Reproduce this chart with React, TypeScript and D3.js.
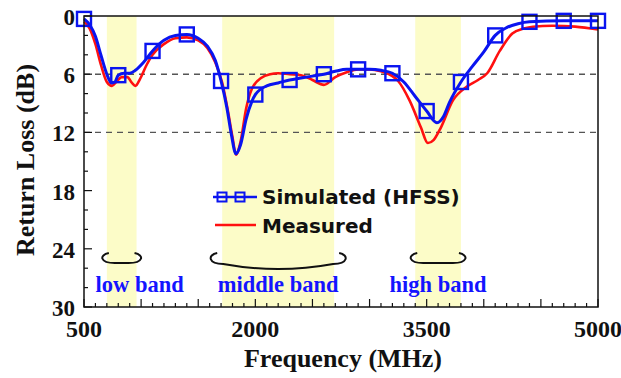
import * as d3 from 'd3'
import React, { useRef, useEffect } from 'react'

// frequency (MHz) / return loss (dB)
const simFreq = [500, 550, 600, 650, 700, 740, 770, 800, 850, 900, 950, 1020, 1100, 1200, 1300, 1400, 1500, 1580, 1650, 1700, 1750, 1790, 1830, 1870, 1920, 1970, 2000, 2100, 2200, 2300, 2400, 2500, 2600, 2700, 2800, 2900, 3000, 3100, 3200, 3300, 3400, 3500, 3590, 3650, 3700, 3800, 3900, 4000, 4100, 4200, 4300, 4400, 4700, 5000]
const simLoss = [0.3, 0.9, 2.1, 4.1, 6.0, 6.9, 6.8, 6.1, 5.9, 5.9, 5.6, 4.8, 3.6, 2.5, 2.0, 1.9, 2.3, 3.1, 4.6, 6.7, 9.4, 12.2, 14.2, 13.3, 10.6, 8.8, 8.1, 7.2, 6.9, 6.6, 6.4, 6.2, 6.0, 5.7, 5.5, 5.5, 5.5, 5.6, 5.9, 6.8, 8.3, 9.8, 11.0, 10.3, 8.9, 6.8, 5.2, 3.7, 2.0, 1.2, 0.8, 0.6, 0.5, 0.5]
const markerFreq = [500, 800, 1100, 1400, 1700, 2000, 2300, 2600, 2900, 3200, 3500, 3800, 4100, 4400, 4700, 5000]

const measFreq = [500, 550, 600, 650, 700, 745, 790, 830, 880, 920, 950, 990, 1050, 1100, 1200, 1300, 1400, 1500, 1580, 1650, 1710, 1760, 1800, 1830, 1870, 1920, 1970, 2050, 2130, 2200, 2300, 2400, 2500, 2600, 2700, 2800, 2900, 3000, 3100, 3200, 3250, 3350, 3450, 3510, 3560, 3620, 3730, 3850, 3950, 4030, 4140, 4250, 4350, 4430, 4600, 4800, 5000]
const measLoss = [0.6, 1.3, 2.9, 5.1, 6.8, 7.2, 6.7, 6.3, 6.3, 6.9, 7.2, 6.5, 5.0, 4.0, 2.9, 2.3, 2.2, 2.5, 3.3, 4.8, 6.9, 9.8, 12.5, 14.3, 13.0, 9.5, 7.5, 6.4, 6.0, 5.9, 6.0, 6.1, 6.6, 7.1, 6.3, 5.8, 5.5, 5.5, 5.7, 6.2, 6.7, 8.7, 11.5, 13.1, 12.8, 11.6, 8.7, 7.3, 6.6, 5.9, 3.6, 1.8, 1.3, 1.1, 1.0, 1.1, 1.4]

const bandNames = ['low band', 'middle band', 'high band']
const bandStart = [700, 1710, 3400]
const bandEnd = [960, 2690, 3800]

const xLabels = [500, 2000, 3500, 5000]
const yLabels = [0, 6, 12, 18, 24, 30]
const seriesNames = ['Simulated (HFSS)', 'Measured']

const serif = '"Liberation Serif", "Times New Roman", serif'
const sans = '"DejaVu Sans", Tahoma, sans-serif'

const App = () => {
  const ref = useRef(null)

  useEffect(() => {
    draw()
  }, [])

  const draw = () => {
    const svg = d3.select(ref.current)
    svg.selectAll('*').remove()

    const left = 84
    const right = 598
    const top = 16
    const bottom = 307

    const x = d3.scaleLinear().domain([500, 5000]).range([left, right])
    const y = d3.scaleLinear().domain([0, 30]).range([top, bottom])

    // frequency bands
    bandStart.forEach((s, i) => {
      svg
        .append('rect')
        .attr('x', x(s))
        .attr('y', top)
        .attr('width', x(bandEnd[i]) - x(s))
        .attr('height', bottom - top)
        .attr('fill', '#fcfcc8')
    })

    // dashed grid at 6 and 12 dB
    svg
      .selectAll('.grid')
      .data([6, 12])
      .enter()
      .append('line')
      .attr('x1', left)
      .attr('x2', right)
      .attr('y1', (d) => y(d))
      .attr('y2', (d) => y(d))
      .attr('stroke', '#555')
      .attr('stroke-width', 1.4)
      .attr('stroke-dasharray', '6,5')

    // brackets + band labels
    bandStart.forEach((s, i) => {
      const pad = i === 1 ? 12 : 5
      const x1 = x(s) - pad
      const x2 = x(bandEnd[i]) + pad
      const y0 = 253
      const depth = i === 1 ? 11 : 10
      const sag = i === 1 ? 5 : 0
      const p = d3.path()
      p.moveTo(x1 + 7, y0)
      p.bezierCurveTo(x1 - 3, y0 + 2, x1 - 2, y0 + depth, x1 + 13, y0 + depth)
      p.quadraticCurveTo((x1 + x2) / 2, y0 + depth + sag * 2, x2 - 13, y0 + depth)
      p.bezierCurveTo(x2 + 2, y0 + depth, x2 + 3, y0 + 2, x2 - 7, y0)
      svg
        .append('path')
        .attr('d', p.toString())
        .attr('fill', 'none')
        .attr('stroke', '#111')
        .attr('stroke-width', 2)

      svg
        .append('text')
        .attr('x', (x(s) + x(bandEnd[i])) / 2 + (i === 0 ? 18 : 0))
        .attr('y', 292)
        .attr('text-anchor', 'middle')
        .attr('font-family', serif)
        .attr('font-weight', 'bold')
        .attr('font-size', 22.5)
        .attr('fill', '#1414ff')
        .text(bandNames[i])
    })

    // curves
    const measPts = measFreq.map((f, i) => [x(f), y(measLoss[i])] as [number, number])
    const simPts = simFreq.map((f, i) => [x(f), y(simLoss[i])] as [number, number])

    svg
      .append('path')
      .attr('d', d3.line().curve(d3.curveMonotoneX)(measPts))
      .attr('fill', 'none')
      .attr('stroke', '#ff1010')
      .attr('stroke-width', 2.6)

    svg
      .append('path')
      .attr('d', d3.line().curve(d3.curveMonotoneX)(simPts))
      .attr('fill', 'none')
      .attr('stroke', '#0a14f0')
      .attr('stroke-width', 3)

    const sq = 14
    svg
      .selectAll('.marker')
      .data(markerFreq)
      .enter()
      .append('rect')
      .attr('x', (d) => x(d) - sq / 2)
      .attr('y', (d) => y(simLoss[simFreq.indexOf(d)]) - sq / 2)
      .attr('width', sq)
      .attr('height', sq)
      .attr('fill', 'none')
      .attr('stroke', '#0a14f0')
      .attr('stroke-width', 2.4)

    // frame
    svg
      .append('path')
      .attr('d', `M${left},${top}H${right}V${bottom}H${left}Z`)
      .attr('fill', 'none')
      .attr('stroke', '#111')
      .attr('stroke-width', 1.5)

    // x ticks (inward)
    svg
      .selectAll('.xtick')
      .data(d3.range(500, 5001, 100))
      .enter()
      .append('line')
      .attr('x1', (d) => x(d))
      .attr('x2', (d) => x(d))
      .attr('y1', bottom)
      .attr('y2', (d) => bottom - (d % 500 === 0 ? 8 : 4))
      .attr('stroke', '#111')
      .attr('stroke-width', 1.2)

    // y ticks (inward)
    svg
      .selectAll('.ytick')
      .data(d3.range(0, 31, 2))
      .enter()
      .append('line')
      .attr('y1', (d) => y(d))
      .attr('y2', (d) => y(d))
      .attr('x1', left)
      .attr('x2', (d) => left + (d % 6 === 0 ? 8 : 4))
      .attr('stroke', '#111')
      .attr('stroke-width', 1.2)

    svg
      .selectAll('.xlab')
      .data(xLabels)
      .enter()
      .append('text')
      .attr('x', (d) => x(d))
      .attr('y', 337)
      .attr('text-anchor', 'middle')
      .attr('font-family', serif)
      .attr('font-weight', 'bold')
      .attr('font-size', 24)
      .attr('fill', '#111')
      .text((d) => d)

    svg
      .selectAll('.ylab')
      .data(yLabels)
      .enter()
      .append('text')
      .attr('x', 75)
      .attr('y', (d) => y(d) + 1)
      .attr('dy', '0.35em')
      .attr('text-anchor', 'end')
      .attr('font-family', serif)
      .attr('font-weight', 'bold')
      .attr('font-size', 23)
      .attr('fill', '#111')
      .text((d) => d)

    svg
      .append('text')
      .attr('x', 343)
      .attr('y', 367)
      .attr('text-anchor', 'middle')
      .attr('font-family', serif)
      .attr('font-weight', 'bold')
      .attr('font-size', 26)
      .attr('fill', '#111')
      .text('Frequency (MHz)')

    svg
      .append('text')
      .attr('transform', 'translate(34,160) rotate(-90)')
      .attr('text-anchor', 'middle')
      .attr('font-family', serif)
      .attr('font-weight', 'bold')
      .attr('font-size', 26)
      .attr('fill', '#111')
      .text('Return Loss (dB)')

    // legend
    svg
      .append('line')
      .attr('x1', 213)
      .attr('x2', 257)
      .attr('y1', 197)
      .attr('y2', 197)
      .attr('stroke', '#0a14f0')
      .attr('stroke-width', 2.5)
    ;[222, 240].forEach((cx) => {
      svg
        .append('rect')
        .attr('x', cx - 4.5)
        .attr('y', 192.5)
        .attr('width', 9)
        .attr('height', 9)
        .attr('fill', 'none')
        .attr('stroke', '#0a14f0')
        .attr('stroke-width', 2)
    })
    svg
      .append('line')
      .attr('x1', 215)
      .attr('x2', 256)
      .attr('y1', 225)
      .attr('y2', 225)
      .attr('stroke', '#ff1010')
      .attr('stroke-width', 2.5)

    seriesNames.forEach((name, i) => {
      svg
        .append('text')
        .attr('x', 262)
        .attr('y', 204 + i * 29)
        .attr('font-family', sans)
        .attr('font-weight', 'bold')
        .attr('font-size', 20)
        .attr('fill', '#111')
        .text(name)
    })
  }

  return (
    <svg
      ref={ref}
      width={621}
      height={378}
      style={{ position: 'absolute', left: 0, top: 0, background: '#fff' }}
    />
  )
}

export default App
